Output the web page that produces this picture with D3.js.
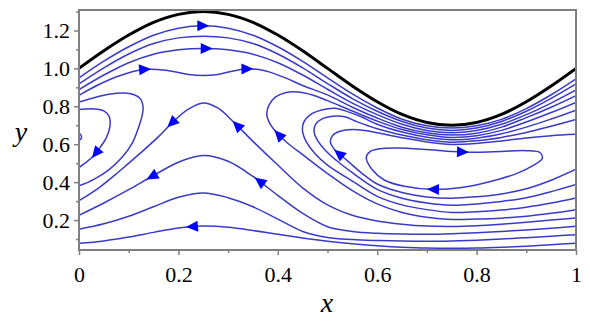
<!DOCTYPE html>
<html>
<head>
<meta charset="utf-8">
<script src="https://cdn.jsdelivr.net/npm/d3@7"></script>
<style>
  body { margin: 0; background: #fff; }
</style>
</head>
<body>
<div id="chart"></div>
<script>
// wall of the channel
var wall = [[0,1.0],[0.05,1.093],[0.1,1.176],[0.15,1.243],[0.2,1.285],[0.25,1.3],[0.3,1.285],[0.35,1.243],[0.4,1.176],[0.45,1.093],[0.5,1.0],[0.55,0.907],[0.6,0.824],[0.65,0.757],[0.7,0.715],[0.75,0.7],[0.8,0.715],[0.85,0.757],[0.9,0.824],[0.95,0.907],[1,1.0]]

// streamlines, points listed in the direction of flow
var upper1 = [[0,0.95],[0.05,1.038],[0.1,1.114],[0.15,1.175],[0.2,1.212],[0.25,1.225],[0.3,1.212],[0.35,1.175],[0.4,1.114],[0.45,1.037],[0.5,0.95],[0.55,0.865],[0.6,0.791],[0.65,0.732],[0.7,0.697],[0.75,0.685],[0.8,0.697],[0.85,0.731],[0.9,0.788],[0.95,0.861],[1,0.945]]
var upper2 = [[0,0.918],[0.05,1.003],[0.1,1.076],[0.15,1.131],[0.2,1.161],[0.25,1.17],[0.3,1.161],[0.35,1.131],[0.4,1.076],[0.45,1.003],[0.5,0.92],[0.55,0.841],[0.6,0.774],[0.65,0.72],[0.7,0.685],[0.75,0.672],[0.8,0.685],[0.85,0.72],[0.9,0.774],[0.95,0.842],[1,0.918]]
var upper3 = [[0,0.888],[0.05,0.965],[0.1,1.03],[0.15,1.075],[0.2,1.098],[0.25,1.105],[0.3,1.098],[0.35,1.075],[0.4,1.03],[0.45,0.965],[0.5,0.89],[0.55,0.817],[0.6,0.756],[0.65,0.705],[0.7,0.672],[0.75,0.66],[0.8,0.672],[0.85,0.705],[0.9,0.756],[0.95,0.817],[1,0.886]]
var upper4 = [[0,0.858],[0.04,0.915],[0.08,0.96],[0.13,0.994],[0.18,0.988],[0.22,0.968],[0.25,0.962],[0.28,0.968],[0.33,0.996],[0.37,0.99],[0.41,0.955],[0.45,0.91],[0.5,0.86],[0.55,0.795],[0.6,0.738],[0.65,0.69],[0.7,0.66],[0.75,0.648],[0.8,0.658],[0.85,0.69],[0.9,0.74],[0.95,0.795],[1,0.856]]

var loopA = [[1,0.255],[0.95,0.236],[0.9,0.22],[0.85,0.21],[0.8,0.205],[0.75,0.203],[0.7,0.215],[0.65,0.24],[0.6,0.285],[0.55,0.355],[0.5,0.445],[0.45,0.545],[0.42,0.605],[0.4,0.655],[0.385,0.705],[0.378,0.755],[0.382,0.805],[0.395,0.848],[0.415,0.872],[0.44,0.876],[0.47,0.86],[0.5,0.83],[0.55,0.775],[0.6,0.722],[0.65,0.678],[0.7,0.65],[0.75,0.636],[0.8,0.645],[0.85,0.673],[0.9,0.717],[0.95,0.767],[1,0.821]]
var loopA2 = [[1,0.317],[0.95,0.29],[0.9,0.268],[0.85,0.253],[0.8,0.244],[0.75,0.24],[0.7,0.255],[0.65,0.28],[0.6,0.325],[0.55,0.405],[0.5,0.49],[0.475,0.55],[0.458,0.61],[0.45,0.665],[0.452,0.715],[0.465,0.755],[0.49,0.782],[0.515,0.79],[0.54,0.772],[0.57,0.742],[0.6,0.705],[0.65,0.664],[0.7,0.637],[0.75,0.624],[0.8,0.632],[0.85,0.655],[0.9,0.69],[0.95,0.733],[1,0.78]]
var loopB2 = [[1,0.388],[0.95,0.35],[0.9,0.318],[0.85,0.298],[0.8,0.285],[0.75,0.278],[0.7,0.29],[0.65,0.315],[0.6,0.362],[0.55,0.45],[0.52,0.51],[0.495,0.57],[0.48,0.62],[0.473,0.665],[0.476,0.705],[0.49,0.735],[0.51,0.748],[0.535,0.745],[0.56,0.718],[0.6,0.682],[0.65,0.649],[0.7,0.624],[0.75,0.611],[0.8,0.618],[0.85,0.636],[0.9,0.662],[0.95,0.695],[1,0.73]]
var loopB = [[1,0.468],[0.95,0.41],[0.9,0.365],[0.85,0.338],[0.8,0.323],[0.75,0.315],[0.7,0.322],[0.65,0.345],[0.6,0.39],[0.57,0.445],[0.55,0.49],[0.53,0.535],[0.515,0.57],[0.506,0.61],[0.51,0.645],[0.525,0.668],[0.55,0.678],[0.575,0.672],[0.6,0.66],[0.65,0.634],[0.7,0.612],[0.75,0.599],[0.8,0.604],[0.85,0.617],[0.9,0.633],[0.95,0.645],[1,0.652]]
var loopC = [[0.578,0.53],[0.585,0.56],[0.605,0.576],[0.64,0.58],[0.7,0.572],[0.75,0.562],[0.8,0.558],[0.85,0.562],[0.9,0.566],[0.928,0.555],[0.932,0.525],[0.915,0.49],[0.88,0.445],[0.83,0.405],[0.77,0.372],[0.71,0.362],[0.655,0.378],[0.615,0.41],[0.59,0.465]]

var lambda = [[1,0.211],[0.95,0.2],[0.9,0.188],[0.85,0.178],[0.8,0.17],[0.75,0.166],[0.7,0.168],[0.65,0.178],[0.6,0.195],[0.55,0.225],[0.5,0.28],[0.45,0.37],[0.4,0.49],[0.35,0.615],[0.31,0.72],[0.28,0.79],[0.25,0.818],[0.22,0.785],[0.19,0.72],[0.16,0.64],[0.12,0.545],[0.08,0.455],[0.04,0.37],[0,0.302]]
var lower3 = [[1,0.167],[0.95,0.157],[0.9,0.148],[0.85,0.14],[0.8,0.133],[0.75,0.128],[0.7,0.125],[0.65,0.126],[0.6,0.13],[0.55,0.14],[0.5,0.165],[0.45,0.235],[0.4,0.33],[0.35,0.43],[0.3,0.51],[0.25,0.54],[0.2,0.505],[0.15,0.435],[0.1,0.36],[0.05,0.29],[0,0.225]]
var lower2 = [[1,0.122],[0.95,0.115],[0.9,0.107],[0.85,0.1],[0.8,0.094],[0.75,0.09],[0.7,0.088],[0.65,0.089],[0.6,0.092],[0.55,0.097],[0.5,0.108],[0.45,0.14],[0.4,0.205],[0.35,0.27],[0.3,0.318],[0.25,0.343],[0.2,0.32],[0.15,0.27],[0.1,0.22],[0.05,0.18],[0,0.152]]
var lower1 = [[1,0.078],[0.95,0.07],[0.9,0.062],[0.85,0.056],[0.8,0.052],[0.75,0.051],[0.7,0.052],[0.65,0.057],[0.6,0.065],[0.55,0.075],[0.5,0.088],[0.45,0.105],[0.4,0.125],[0.35,0.145],[0.3,0.162],[0.25,0.168],[0.2,0.158],[0.15,0.135],[0.1,0.11],[0.05,0.09],[0,0.077]]

var outerU = [[0,0.822],[0.03,0.845],[0.06,0.863],[0.09,0.87],[0.11,0.862],[0.124,0.838],[0.129,0.79],[0.126,0.74],[0.12,0.69],[0.108,0.61],[0.088,0.535],[0.06,0.465],[0.03,0.415],[0,0.38]]
var innerU = [[0,0.783],[0.03,0.786],[0.05,0.776],[0.061,0.745],[0.062,0.69],[0.055,0.635],[0.043,0.585],[0.028,0.535],[0.012,0.5],[0,0.477]]
var innerArc = [[0,0.657],[0.004,0.648],[0.005,0.635],[0.002,0.622]]

var streamlines = [upper1, upper2, upper3, upper4, loopA, loopA2, loopB2, loopB, lambda, lower3, lower2, lower1, outerU, innerU, innerArc]

// arrow heads: [streamline, x, y]
var arrows = [[upper1,0.25,1.225],[upper3,0.257,1.105],[upper4,0.133,0.994],[upper4,0.339,0.997],
  [innerU,0.032,0.556],[lambda,0.187,0.71],[lambda,0.318,0.70],[loopA,0.402,0.652],
  [lower3,0.147,0.428],[lower3,0.362,0.402],[lower1,0.227,0.168],[loopB,0.521,0.546],
  [loopC,0.773,0.56],[loopC,0.712,0.362]]

var xTicks = [0, 0.2, 0.4, 0.6, 0.8, 1]
var xMinor = [0.1, 0.3, 0.5, 0.7, 0.9]
var yTicks = [0.2, 0.4, 0.6, 0.8, 1.0, 1.2]
var yMinor = [0.1, 0.3, 0.5, 0.7, 0.9, 1.1, 1.3]

var serif = "'Liberation Serif', 'Times New Roman', Times, 'DejaVu Serif', serif"

var margin = {top: 10, right: 14, bottom: 79, left: 79};
var width = 590 - margin.left - margin.right;
var height = 329 - margin.top - margin.bottom;

var svg = d3.select('#chart').append('svg')
    .attr("width", 590)
    .attr("height", 329)

var g = svg.append("g")
    .attr("transform", "translate(" + margin.left + "," + margin.top + ")")

var x = d3.scaleLinear().domain([0, 1]).range([0, width]);
var y = d3.scaleLinear().domain([0.042, 1.308]).range([height, 0]);

g.append("clipPath").attr("id", "plot-clip")
  .append("rect").attr("width", width).attr("height", height)

var plot = g.append("g").attr("clip-path", "url(#plot-clip)")

var line = d3.line()
    .x(function(d) { return x(d[0]); })
    .y(function(d) { return y(d[1]); })
    .curve(d3.curveCatmullRom.alpha(0.5))

var closedLine = d3.line()
    .x(function(d) { return x(d[0]); })
    .y(function(d) { return y(d[1]); })
    .curve(d3.curveCatmullRomClosed.alpha(0.5))

var paths = new Map()
streamlines.forEach(function (s) {
  var p = plot.append("path")
    .attr("d", line(s))
    .attr("fill", "none")
    .attr("stroke", "#3a3ac8")
    .attr("stroke-width", 1.5)
  paths.set(s, p.node())
})
paths.set(loopC, plot.append("path")
    .attr("d", closedLine(loopC))
    .attr("fill", "none")
    .attr("stroke", "#3a3ac8")
    .attr("stroke-width", 1.5).node())

plot.append("path")
    .attr("d", line(wall))
    .attr("fill", "none")
    .attr("stroke", "#000")
    .attr("stroke-width", 3)

// arrows
arrows.forEach(function (a) {
  var node = paths.get(a[0])
  var tx = x(a[1]), ty = y(a[2])
  var total = node.getTotalLength(), best = 0, bestD = Infinity
  for (var l = 0; l <= total; l += 0.5) {
    var p = node.getPointAtLength(l)
    var dd = (p.x - tx) * (p.x - tx) + (p.y - ty) * (p.y - ty)
    if (dd < bestD) { bestD = dd; best = l }
  }
  var c = node.getPointAtLength(best)
  var p0 = node.getPointAtLength(Math.max(best - 2, 0))
  var p1 = node.getPointAtLength(Math.min(best + 2, total))
  var ang = Math.atan2(p1.y - p0.y, p1.x - p0.x) * 180 / Math.PI
  plot.append("path")
    .attr("d", "M6,0L-6,-5.5L-6,5.5Z")
    .attr("fill", "#0000ff")
    .attr("transform", "translate(" + c.x + "," + c.y + ") rotate(" + ang + ")")
})

// frame
g.append("rect")
    .attr("width", width).attr("height", height)
    .attr("fill", "none").attr("stroke", "#808080").attr("stroke-width", 2)

// axes
var xAxisCall = d3.axisBottom(x).tickValues(xTicks).tickSize(5)
    .tickFormat(function (d) { return d === 0 || d === 1 ? d3.format("d")(d) : d3.format(".1f")(d) })
var xa = g.append('g').attr("class", "x-axis")
    .attr("transform", "translate(0, " + height + ")")
    .call(xAxisCall)
xa.select(".domain").remove()
xa.selectAll("line").attr("stroke", "#808080").attr("stroke-width", 1.5)
xa.selectAll("text").attr("y", 32).attr("dy", null)
    .style("font-family", serif).style("font-size", "22px").style("fill", "#000")

var xm = g.append('g').attr("transform", "translate(0, " + height + ")")
    .call(d3.axisBottom(x).tickValues(xMinor).tickSize(3).tickFormat(""))
xm.select(".domain").remove()
xm.selectAll("line").attr("stroke", "#808080").attr("stroke-width", 1.5)

var yAxisCall = d3.axisLeft(y).tickValues(yTicks).tickSize(5).tickFormat(d3.format(".1f"))
var ya = g.append('g').attr("class", "y-axis").call(yAxisCall)
ya.select(".domain").remove()
ya.selectAll("line").attr("stroke", "#808080").attr("stroke-width", 1.5)
ya.selectAll("text").attr("x", -9)
    .style("font-family", serif).style("font-size", "22px").style("fill", "#000")

var ym = g.append('g')
    .call(d3.axisLeft(y).tickValues(yMinor.filter(function (v) { return v < 1.308 })).tickSize(3).tickFormat(""))
ym.select(".domain").remove()
ym.selectAll("line").attr("stroke", "#808080").attr("stroke-width", 1.5)

// axis titles
svg.append("text").attr("x", 327).attr("y", 312)
    .attr("text-anchor", "middle")
    .style("font-family", serif).style("font-style", "italic").style("font-size", "28px")
    .text("x")
svg.append("text").attr("x", 21).attr("y", 141)
    .attr("text-anchor", "middle")
    .style("font-family", serif).style("font-style", "italic").style("font-size", "28px")
    .text("y")
</script>
</body>
</html>
